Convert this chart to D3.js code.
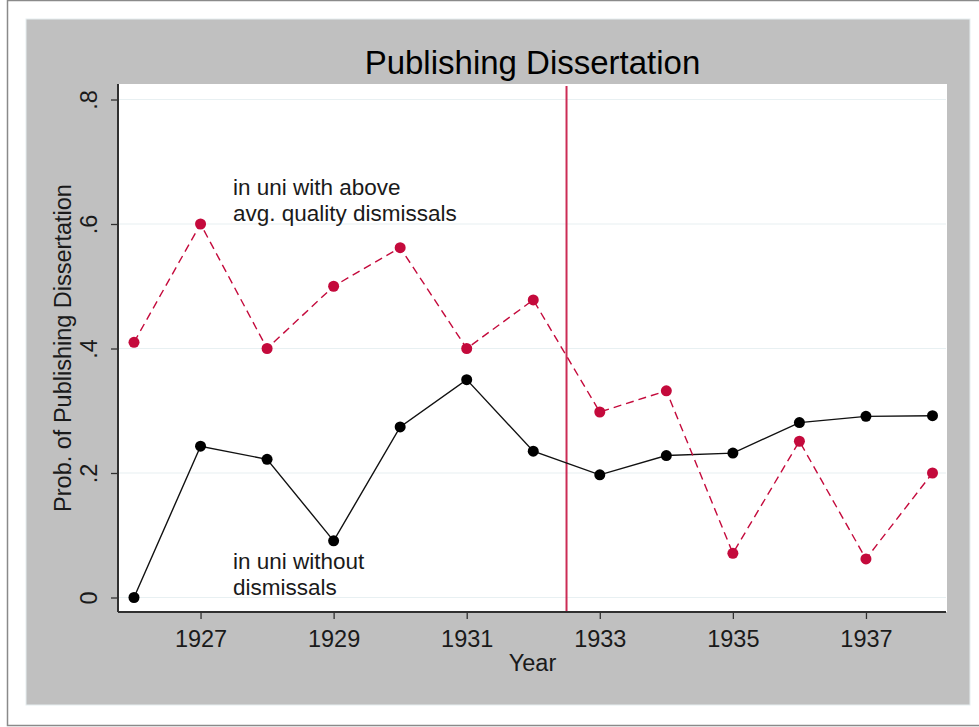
<!DOCTYPE html>
<html>
<head>
<meta charset="utf-8">
<script src="https://cdn.jsdelivr.net/npm/d3@7"></script>
<style>
  html, body { margin: 0; padding: 0; background: #ffffff; }
  svg { display: block; font-family: Arial, "Liberation Sans", sans-serif; }
</style>
</head>
<body>
<svg id="chart" width="979" height="727"></svg>
<script>
// ---- data ----
const years = [1926, 1927, 1928, 1929, 1930, 1931, 1932, 1933, 1934, 1935, 1936, 1937, 1938];
const aboveAvgDismissals = [0.41, 0.60, 0.40, 0.50, 0.562, 0.40, 0.478, 0.298, 0.332, 0.071, 0.251, 0.062, 0.20];
const withoutDismissals = [0.0, 0.243, 0.222, 0.091, 0.274, 0.35, 0.235, 0.197, 0.228, 0.232, 0.281, 0.291, 0.292];
const xTickValues = [1927, 1929, 1931, 1933, 1935, 1937];
const yTickValues = [0, 0.2, 0.4, 0.6, 0.8];
const yTickLabels = ["0", ".2", ".4", ".6", ".8"];
const cutoffYear = 1932.5;
const title = "Publishing Dissertation";
const xTitle = "Year";
const yTitle = "Prob. of Publishing Dissertation";
const labelAbove = ["in uni with above", "avg. quality dismissals"];
const labelWithout = ["in uni without", "dismissals"];

// ---- layout ----
const svg = d3.select("#chart");
const plot = { left: 118, top: 84, right: 947, bottom: 612 };
const red = "#c40a3c";
const fs = 23.5;

// outer frame
svg.append("rect").attr("x", 7.5).attr("y", 0.5).attr("width", 990).attr("height", 725)
  .attr("fill", "#ffffff").attr("stroke", "#8a8a8a").attr("stroke-width", 1.5);
// gray panel
svg.append("rect").attr("x", 26).attr("y", 19).attr("width", 944).attr("height", 686)
  .attr("fill", "#c0c0c0").attr("stroke", "#e6eef0").attr("stroke-width", 1);
// plot area
svg.append("rect").attr("x", plot.left).attr("y", plot.top)
  .attr("width", plot.right - plot.left).attr("height", plot.bottom - plot.top)
  .attr("fill", "#ffffff");

const x = d3.scaleLinear().domain([1926, 1938]).range([134, 932.5]);
const y = d3.scaleLinear().domain([0, 0.8]).range([597.5, 99.5]);

// gridlines
svg.append("g").selectAll("line").data(yTickValues).join("line")
  .attr("x1", plot.left + 1).attr("x2", plot.right - 1)
  .attr("y1", d => y(d)).attr("y2", d => y(d))
  .attr("stroke", "#e8f0f2").attr("stroke-width", 1.2);

// y axis
const yAxis = d3.axisLeft(y).tickValues(yTickValues)
  .tickFormat((d, i) => yTickLabels[i]).tickSize(7).tickPadding(0);
const gy = svg.append("g").attr("transform", `translate(${plot.left},0)`).call(yAxis);
gy.select(".domain").attr("d", `M0,${plot.top}V${plot.bottom}`).attr("stroke", "#303030").attr("stroke-width", 2);
gy.selectAll(".tick line").attr("stroke", "#303030").attr("stroke-width", 1.3);
gy.selectAll(".tick text")
  .attr("x", 0).attr("dy", null)
  .attr("transform", "translate(-29,0) rotate(-90)")
  .attr("text-anchor", "middle").attr("dominant-baseline", "central")
  .attr("font-size", fs).attr("fill", "#1a1a1a")
  .style("font-family", "Arial, 'Liberation Sans', sans-serif");

// x axis
const xAxis = d3.axisBottom(x).tickValues(xTickValues).tickFormat(d3.format("d")).tickSize(7).tickPadding(11);
const gx = svg.append("g").attr("transform", `translate(0,${plot.bottom})`).call(xAxis);
gx.select(".domain").attr("d", `M${plot.left},0H${plot.right - 1}`).attr("stroke", "#303030").attr("stroke-width", 2);
gx.selectAll(".tick line").attr("stroke", "#303030").attr("stroke-width", 1.3);
gx.selectAll(".tick text").attr("font-size", fs).attr("fill", "#1a1a1a")
  .style("font-family", "Arial, 'Liberation Sans', sans-serif");

// vertical cutoff line
svg.append("line").attr("x1", x(cutoffYear)).attr("x2", x(cutoffYear))
  .attr("y1", plot.top + 2).attr("y2", plot.bottom - 1)
  .attr("stroke", "#cc2c55").attr("stroke-width", 2);

// lines
const line = d3.line().x((d, i) => x(years[i])).y(d => y(d));
svg.append("path").datum(withoutDismissals).attr("d", line)
  .attr("fill", "none").attr("stroke", "#111").attr("stroke-width", 1.4);
svg.append("path").datum(aboveAvgDismissals).attr("d", line)
  .attr("fill", "none").attr("stroke", red).attr("stroke-width", 1.4)
  .attr("stroke-dasharray", "8,5");

// markers
svg.append("g").selectAll("circle").data(withoutDismissals).join("circle")
  .attr("cx", (d, i) => x(years[i])).attr("cy", d => y(d)).attr("r", 5.5).attr("fill", "#000");
svg.append("g").selectAll("circle").data(aboveAvgDismissals).join("circle")
  .attr("cx", (d, i) => x(years[i])).attr("cy", d => y(d)).attr("r", 5.5).attr("fill", red);

// annotations (one text element per line)
const annFs = 22.5;
const ann = (lines, x0, y0) => {
  lines.forEach((s, i) => svg.append("text")
    .attr("x", x0).attr("y", y0 + i * 26)
    .attr("font-size", annFs).attr("fill", "#1a1a1a").text(s));
};
ann(labelAbove, 233, 195);
ann(labelWithout, 233, 569);

// titles
svg.append("text").attr("x", (plot.left + plot.right) / 2).attr("y", 74)
  .attr("text-anchor", "middle").attr("font-size", 33).attr("fill", "#000").text(title);
svg.append("text").attr("x", (plot.left + plot.right) / 2).attr("y", 671)
  .attr("text-anchor", "middle").attr("font-size", fs).attr("fill", "#1a1a1a").text(xTitle);
svg.append("text").attr("transform", `translate(71,${(plot.top + plot.bottom) / 2}) rotate(-90)`)
  .attr("text-anchor", "middle").attr("font-size", fs).attr("fill", "#1a1a1a").text(yTitle);
</script>
</body>
</html>
